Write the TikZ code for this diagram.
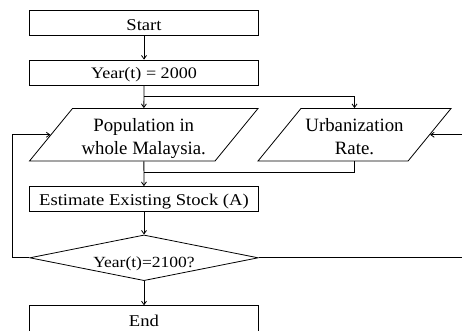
\documentclass[tikz,border=0pt]{standalone}
\usepackage{fontspec}
\setmainfont[FakeStretch=1.13]{Liberation Serif}
\newfontfamily\plainserif{Liberation Serif}
\usetikzlibrary{shapes.geometric,arrows.meta}
\newcommand{\topstrut}{\rule{0pt}{20.5pt}}
\newcommand{\botstrut}{\rule[-4pt]{0pt}{4pt}}
\begin{document}
\begin{tikzpicture}[x=1pt,y=-1pt,
  every node/.style={font=\fontsize{16.5}{25.5}\selectfont, line width=0.8pt},
  box/.style={draw, rectangle, inner sep=0pt, minimum width=228.5pt, minimum height=24.5pt},
  io/.style={draw, trapezium, trapezium left angle=47.9, trapezium right angle=132.1,
     trapezium stretches body=true, inner sep=0pt, align=center, minimum height=52.5pt,
     font=\plainserif\fontsize{18.8}{23}\selectfont},
  dec/.style={draw, diamond, aspect=5, inner sep=0pt, minimum width=228.5pt, minimum height=45.7pt},
  conn/.style={line width=0.8pt},
  arr/.style={conn, -{Straight Barb[length=3.5pt,width=5pt]}}]
\clip (0,0) rectangle (462,331);
\node[box, text height=17pt, text depth=1pt] (start) at (144,22.7) {Start};
\node[box, minimum height=25pt, text height=14pt, text depth=2.4pt, font=\fontsize{16}{20}\selectfont] (year) at (144,72.5) {Year(t) = 2000};
\node[io, minimum width=228.5pt] (pop) at (143.75,134.75) {\topstrut Population in\\whole Malaysia.\botstrut};
\node[io, minimum width=193pt] (urb) at (354.5,134.75) {\topstrut Urbanization\\Rate.\botstrut};
\node[box, text height=14pt, text depth=1.6pt] (est) at (144,198.8) {Estimate Existing Stock (A)};
\node[dec, text height=20pt, text depth=0.5pt, font=\fontsize{15.5}{20}\selectfont] (dia) at (144,257.8) {Year(t)=2100?};
\node[box, minimum height=27pt, text height=15pt, text depth=1.4pt] (end) at (144,319.2) {End};
\coordinate (j1) at (144,96.7);
\coordinate (j2) at (144,172.7);
\coordinate (lft) at (12.7,257.8);
\coordinate (rgt) at (475,257.8);
\draw[arr] (start) -- (year);
\draw[arr] (year) -- (pop);
\draw[arr] (j1) -| (urb.north);
\draw[arr] (pop) -- (est);
\draw[conn] (urb.south) |- (j2);
\draw[arr] (est) -- (dia);
\draw[arr] (dia) -- (end);
\draw[arr] (dia.west) -- (lft) |- (pop.west);
\draw[arr] (dia.east) -- (rgt) |- (urb.east);
\end{tikzpicture}
\end{document}
